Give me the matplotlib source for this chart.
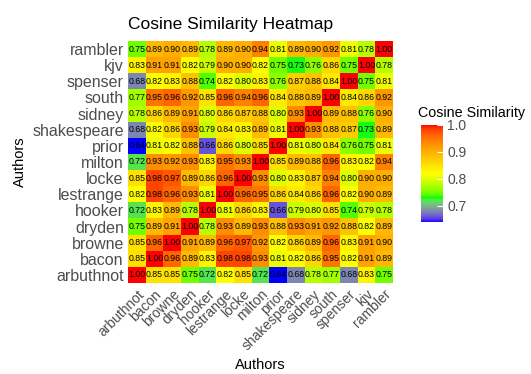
import numpy as np
import matplotlib
matplotlib.use("Agg")
import matplotlib.pyplot as plt
import matplotlib.colors as mcolors

plt.rcParams['font.family'] = ['Liberation Sans', 'DejaVu Sans']

# autores, de abajo hacia arriba
autores = ["arbuthnot", "bacon", "browne", "dryden", "hooker", "lestrange",
           "locke", "milton", "prior", "shakespeare", "sidney", "south",
           "spenser", "kjv", "rambler"]

# similitud coseno, una fila por autor (mismo orden que 'autores')
arbuthnot = [1.00, 0.85, 0.85, 0.75, 0.72, 0.82, 0.85, 0.72, 0.64, 0.68, 0.78, 0.77, 0.68, 0.83, 0.75]
bacon = [0.85, 1.00, 0.96, 0.89, 0.83, 0.98, 0.98, 0.93, 0.81, 0.82, 0.86, 0.95, 0.82, 0.91, 0.89]
browne = [0.85, 0.96, 1.00, 0.91, 0.89, 0.96, 0.97, 0.92, 0.82, 0.86, 0.89, 0.96, 0.83, 0.91, 0.90]
dryden = [0.75, 0.89, 0.91, 1.00, 0.78, 0.93, 0.89, 0.93, 0.88, 0.93, 0.91, 0.92, 0.88, 0.82, 0.89]
hooker = [0.72, 0.83, 0.89, 0.78, 1.00, 0.81, 0.86, 0.83, 0.66, 0.79, 0.80, 0.85, 0.74, 0.79, 0.78]
lestrange = [0.82, 0.98, 0.96, 0.93, 0.81, 1.00, 0.96, 0.95, 0.86, 0.84, 0.86, 0.96, 0.82, 0.90, 0.89]
locke = [0.85, 0.98, 0.97, 0.89, 0.86, 0.96, 1.00, 0.93, 0.80, 0.83, 0.87, 0.94, 0.80, 0.90, 0.90]
milton = [0.72, 0.93, 0.92, 0.93, 0.83, 0.95, 0.93, 1.00, 0.85, 0.89, 0.88, 0.96, 0.83, 0.82, 0.94]
prior = [0.64, 0.81, 0.82, 0.88, 0.66, 0.86, 0.80, 0.85, 1.00, 0.81, 0.80, 0.84, 0.76, 0.75, 0.81]
shakespeare = [0.68, 0.82, 0.86, 0.93, 0.79, 0.84, 0.83, 0.89, 0.81, 1.00, 0.93, 0.88, 0.87, 0.73, 0.89]
sidney = [0.78, 0.86, 0.89, 0.91, 0.80, 0.86, 0.87, 0.88, 0.80, 0.93, 1.00, 0.89, 0.88, 0.76, 0.90]
south = [0.77, 0.95, 0.96, 0.92, 0.85, 0.96, 0.94, 0.96, 0.84, 0.88, 0.89, 1.00, 0.84, 0.86, 0.92]
spenser = [0.68, 0.82, 0.83, 0.88, 0.74, 0.82, 0.80, 0.83, 0.76, 0.87, 0.88, 0.84, 1.00, 0.75, 0.81]
kjv = [0.83, 0.91, 0.91, 0.82, 0.79, 0.90, 0.90, 0.82, 0.75, 0.73, 0.76, 0.86, 0.75, 1.00, 0.78]
rambler = [0.75, 0.89, 0.90, 0.89, 0.78, 0.89, 0.90, 0.94, 0.81, 0.89, 0.90, 0.92, 0.81, 0.78, 1.00]

colorbar_ticks = [0.7, 0.8, 0.9, 1.0]

sim = np.array([arbuthnot, bacon, browne, dryden, hooker, lestrange, locke,
                milton, prior, shakespeare, sidney, south, spenser, kjv, rambler])


# ---- paleta: interpolación en espacio Lab (como gradientn) ----
def rgb_a_lab(rgb):
    rgb = np.asarray(rgb, dtype=float)
    lin = np.where(rgb <= 0.04045, rgb / 12.92, ((rgb + 0.055) / 1.055) ** 2.4)
    M = np.array([[0.4124, 0.3576, 0.1805],
                  [0.2126, 0.7152, 0.0722],
                  [0.0193, 0.1192, 0.9505]])
    xyz = M @ lin / np.array([0.95047, 1.0, 1.08883])
    f = np.where(xyz > 0.008856, np.cbrt(xyz), 7.787 * xyz + 16 / 116)
    return np.array([116 * f[1] - 16, 500 * (f[0] - f[1]), 200 * (f[1] - f[2])])


def lab_a_rgb(lab):
    L, a, b = lab
    fy = (L + 16) / 116
    f = np.array([fy + a / 500, fy, fy - b / 200])
    xyz = np.where(f ** 3 > 0.008856, f ** 3, (f - 16 / 116) / 7.787)
    xyz = xyz * np.array([0.95047, 1.0, 1.08883])
    Minv = np.array([[3.2406, -1.5372, -0.4986],
                     [-0.9689, 1.8758, 0.0415],
                     [0.0557, -0.2040, 1.0570]])
    lin = np.clip(Minv @ xyz, 0, 1)
    rgb = np.where(lin <= 0.0031308, 12.92 * lin, 1.055 * lin ** (1 / 2.4) - 0.055)
    return np.clip(rgb, 0, 1)


# azul -> verde -> amarillo -> naranja -> rojo
colores_base = ["#0000FF", "#00FF00", "#FFFF00", "#FFA500", "#FF0000"]
labs = [rgb_a_lab(mcolors.to_rgb(c)) for c in colores_base]
posiciones = np.linspace(0, 1, len(labs))
muestras = []
for t in np.linspace(0, 1, 256):
    k = min(np.searchsorted(posiciones, t, side="right") - 1, len(labs) - 2)
    u = (t - posiciones[k]) / (posiciones[k + 1] - posiciones[k])
    muestras.append(lab_a_rgb(labs[k] * (1 - u) + labs[k + 1] * u))
cmap = mcolors.ListedColormap(muestras)

vmin, vmax = sim.min(), sim.max()

# ---- figura ----
W, H = 531, 374
fig = plt.figure(figsize=(W / 100, H / 100), dpi=100)


def caja(x0, y0, x1, y1):
    # coordenadas en pixeles (origen arriba a la izquierda) -> fracción de figura
    return [x0 / W, 1 - y1 / H, (x1 - x0) / W, (y1 - y0) / H]


ax = fig.add_axes(caja(128, 41, 393, 283))
n = len(autores)
im = ax.imshow(sim, cmap=cmap, vmin=vmin, vmax=vmax, aspect="auto",
               origin="lower", interpolation="nearest")

for i in range(n):
    for j in range(n):
        ax.text(j, i, f"{sim[i, j]:.2f}", ha="center", va="center",
                fontsize=6.3, color="black")

ax.set_xticks(range(n))
ax.set_xticklabels(autores, rotation=45, ha="right", rotation_mode="anchor",
                   fontsize=10)
ax.set_yticks(range(n))
ax.set_yticklabels(autores, fontsize=11.5)
ax.tick_params(length=0, labelcolor="#4d4d4d", pad=3)
for s in ax.spines.values():
    s.set_visible(False)

ax.set_xlabel("Authors", fontsize=10.5, labelpad=3)
ax.set_ylabel("Authors", fontsize=10.5, labelpad=4)
ax.set_title("Cosine Similarity Heatmap", fontsize=12.5, loc="left", pad=9)

# barra de color
cax = fig.add_axes(caja(421, 125, 443, 222))
cb = fig.colorbar(im, cax=cax, ticks=colorbar_ticks)
cb.outline.set_visible(False)
cb.ax.set_yticklabels([f"{t:.1f}" for t in colorbar_ticks])
cb.ax.tick_params(length=4, width=0.8, color="white", labelsize=10,
                  labelcolor="#4d4d4d", pad=3, direction="in")
fig.text(418 / W, 1 - 113 / H, "Cosine Similarity", fontsize=10.3,
         ha="left", va="center")

fig.savefig("out.png", dpi=100)
